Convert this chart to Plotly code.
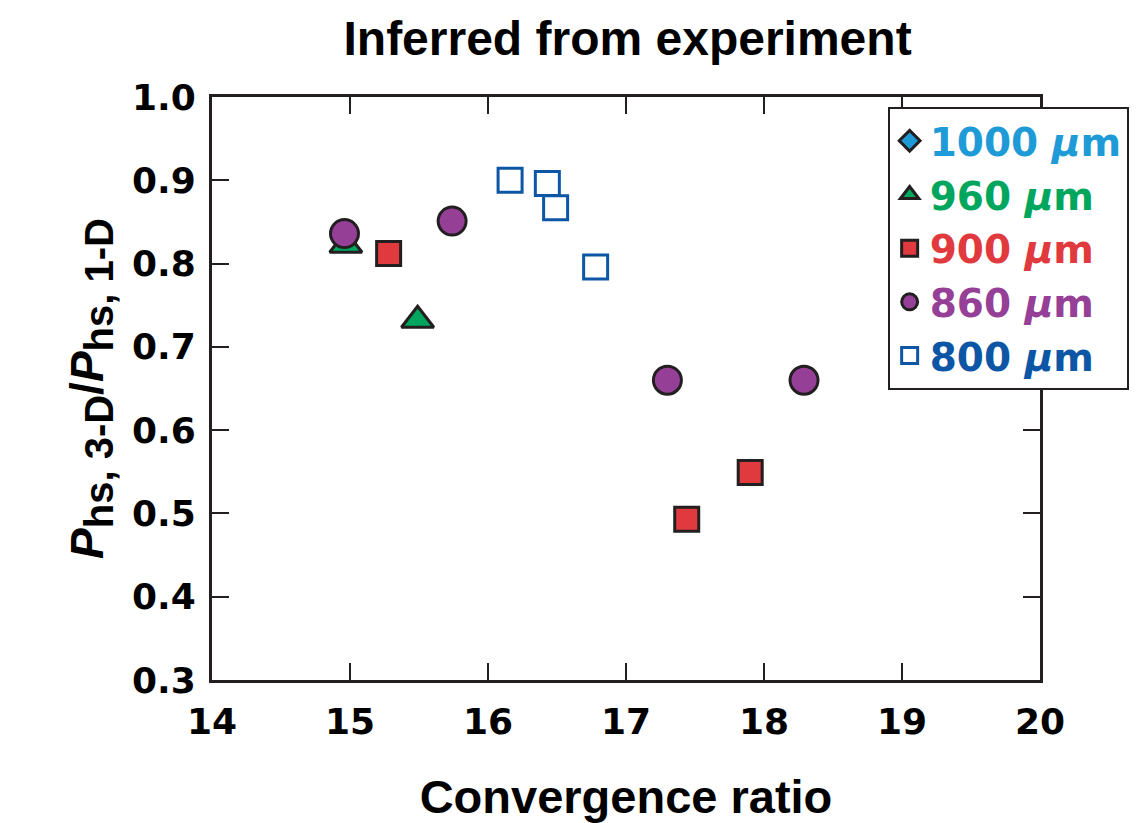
import plotly.graph_objects as go

# Convergence ratio (x) and hot-spot pressure ratio (y) for each shell size
series_labels = ["1000", "960", "900", "860", "800"]

x_1000 = []
y_1000 = []

x_960 = [14.97, 15.49]
y_960 = [0.822, 0.732]

x_900 = [15.28, 17.44, 17.90]
y_900 = [0.812, 0.493, 0.549]

x_860 = [14.96, 15.74, 17.30, 18.29]
y_860 = [0.836, 0.851, 0.660, 0.660]

x_800 = [16.16, 16.43, 16.49, 16.78]
y_800 = [0.900, 0.896, 0.867, 0.796]

x_ticks = [14, 15, 16, 17, 18, 19, 20]
y_ticks = [0.3, 0.4, 0.5, 0.6, 0.7, 0.8, 0.9, 1.0]

FONT = "Liberation Sans, Arial, Helvetica, sans-serif"
WIDE = "DejaVu Sans, Liberation Sans, sans-serif"
INK = "#231f20"

colors = ["#1e9bd7", "#00a65d", "#e03a3e", "#953f97", "#0c56a5"]
styles = [
    dict(symbol="diamond", size=25, color=colors[0], line=dict(color=INK, width=3)),
    dict(symbol="triangle-up", size=28, color=colors[1], line=dict(color=INK, width=3)),
    dict(symbol="square", size=24, color=colors[2], line=dict(color=INK, width=3)),
    dict(symbol="circle", size=28, color=colors[3], line=dict(color=INK, width=3)),
    dict(symbol="square-open", size=24, color=colors[4], line=dict(color=colors[4], width=3)),
]

data = [(x_1000, y_1000), (x_960, y_960), (x_900, y_900), (x_860, y_860), (x_800, y_800)]

fig = go.Figure()
# triangles are drawn beneath the circles
for i in [0, 1, 2, 4, 3]:
    xs, ys = data[i]
    if not xs:
        xs, ys = [None], [None]
    label = (f'<span style="color:{colors[i]}"><b>{series_labels[i]} '
             f'<i>µ</i>m</b></span>')
    fig.add_trace(go.Scatter(
        x=xs, y=ys, mode="markers", name=label,
        marker=styles[i], legendrank=i + 1,
    ))

fig.update_layout(
    width=1141, height=823,
    margin=dict(l=212, r=101, t=97, b=143),
    paper_bgcolor="white", plot_bgcolor="white",
    font=dict(family=FONT, size=34, color="black"),
    title=dict(text="<b>Inferred from experiment</b>", x=0.55, xanchor="center",
               y=0.954, yanchor="middle", font=dict(size=48, family=FONT)),
    showlegend=True,
    legend=dict(x=0.816, y=0.983, xanchor="left", yanchor="top",
                bordercolor=INK, borderwidth=2, bgcolor="white",
                font=dict(size=39, family=WIDE), itemsizing="trace",
                tracegroupgap=0),
)

fig.update_xaxes(
    range=[14, 20], tickvals=x_ticks, ticktext=[f"<b>{v}</b>" for v in x_ticks],
    showline=True, linecolor=INK, linewidth=3, mirror="ticks",
    ticks="inside", ticklen=17, tickwidth=1.5, tickcolor=INK,
    showgrid=False, zeroline=False, tickfont=dict(size=36, family=WIDE),
    ticklabelstandoff=8, automargin=False,
    title=dict(text="<b>Convergence ratio</b>", font=dict(size=47, family=FONT), standoff=40),
)
sub = '<sub><span style="font-size:40px">{}</span></sub>'
y_title = ("<b><i>P</i>" + sub.format("hs, 3-D") + "/<i>P</i>" + sub.format("hs, 1-D") + "</b>")
fig.update_yaxes(
    range=[0.3, 1.0], tickvals=y_ticks, ticktext=[f"<b>{v:.1f}</b>" for v in y_ticks],
    showline=True, linecolor=INK, linewidth=3, mirror="ticks",
    ticks="inside", ticklen=17, tickwidth=1.5, tickcolor=INK,
    showgrid=False, zeroline=False, tickfont=dict(size=36, family=WIDE),
    ticklabelstandoff=6, automargin=False,
    title=dict(text=y_title, font=dict(size=46, family=FONT), standoff=14),
)

fig.write_html("out.html")
